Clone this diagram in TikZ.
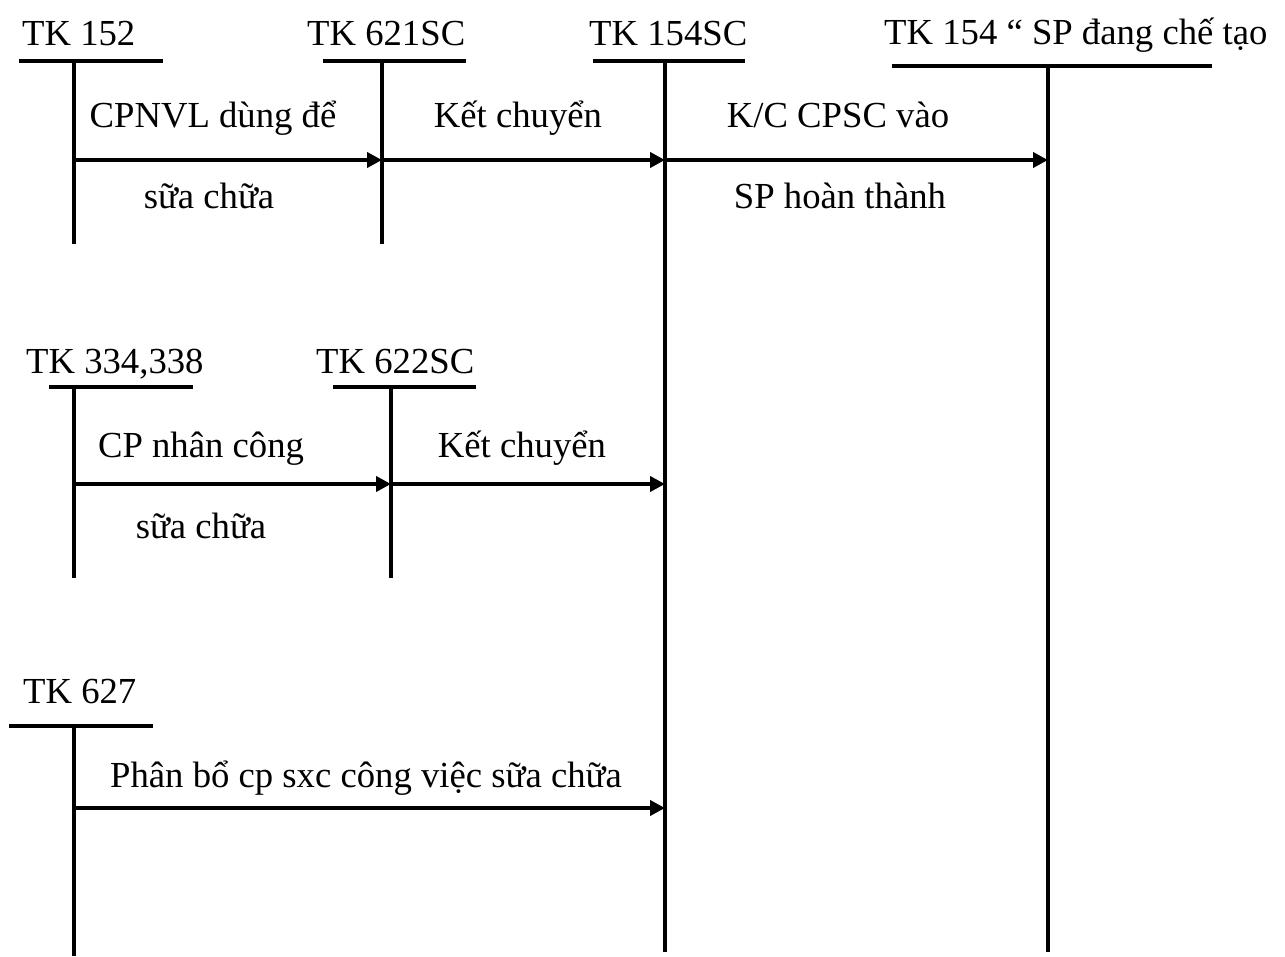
\documentclass[tikz,border=0pt]{standalone}
\usepackage{fontspec}
\setmainfont{Liberation Serif}
\usetikzlibrary{arrows.meta}
\begin{document}
\begin{tikzpicture}[x=1pt,y=-1pt,
  hdr/.style={line width=4.5pt},
  acct/.style={line width=3.8pt},
  flow/.style={line width=3.8pt,-{Triangle[length=15pt,width=15pt]}},
  txt/.style={inner sep=0pt,anchor=base,font=\fontsize{36.7}{44}\selectfont},
  lbl/.style={inner sep=0pt,anchor=base west,font=\fontsize{36.7}{44}\selectfont}]
\useasboundingbox (0,0) rectangle (1285,956);
% ---- headers
\node[lbl] (h152) at (22,45) {TK 152};
\node[lbl] (h621) at (307,45) {TK 621SC};
\node[lbl] (h154) at (589,45) {TK 154SC};
\node[lbl] (hsp) at (884,44) {TK 154 “ SP đang chế tạo};
\node[lbl] (h334) at (26,373) {TK 334,338};
\node[lbl] (h622) at (316,373) {TK 622SC};
\node[lbl] (h627) at (23,703) {TK 627};
% ---- header bars
\draw[hdr] (19,61) -- (163,61);
\draw[hdr] (323,61) -- (466,61);
\draw[hdr] (593,61) -- (745,61);
\draw[hdr] (892,66) -- (1212,66);
\draw[hdr] (49,387) -- (193,387);
\draw[hdr] (333,387) -- (476,387);
\draw[hdr] (9,726) -- (153,726);
% ---- account columns
\coordinate (t152) at (74,61);   \coordinate (b152) at (74,244);
\coordinate (t621) at (382,61);  \coordinate (b621) at (382,244);
\coordinate (t154) at (665,61);  \coordinate (b154) at (665,952);
\coordinate (tsp) at (1048,66);  \coordinate (bsp) at (1048,952);
\coordinate (t334) at (74,387);  \coordinate (b334) at (74,578);
\coordinate (t622) at (391,387); \coordinate (b622) at (391,578);
\coordinate (t627) at (74,726);  \coordinate (b627) at (74,956);
\draw[acct] (t152) -- (b152);
\draw[acct] (t621) -- (b621);
\draw[acct] (t154) -- (b154);
\draw[acct] (tsp) -- (bsp);
\draw[acct] (t334) -- (b334);
\draw[acct] (t622) -- (b622);
\draw[acct] (t627) -- (b627);
% ---- flow points
\coordinate (a1) at (74,160);
\coordinate (a2) at (382,160);
\coordinate (a3) at (665,160);
\coordinate (a4) at (1048,160);
\coordinate (c1) at (74,484);
\coordinate (c2) at (391,484);
\coordinate (c3) at (665,484);
\coordinate (d1) at (74,808);
\coordinate (d2) at (665,808);
\draw[flow] (a1) -- (a2);
\draw[flow] (a2) -- (a3);
\draw[flow] (a3) -- (a4);
\draw[flow] (c1) -- (c2);
\draw[flow] (c2) -- (c3);
\draw[flow] (d1) -- (d2);
% ---- labels
\node[txt] (l1) at (213,127) {CPNVL dùng để};
\node[txt] (l2) at (209,208) {sữa chữa};
\node[txt] (l3) at (518,127) {Kết chuyển};
\node[txt] (l4) at (838,127) {K/C CPSC vào};
\node[txt] (l5) at (840,208) {SP hoàn thành};
\node[txt] (l6) at (201,457) {CP nhân công};
\node[txt] (l7) at (201,538) {sữa chữa};
\node[txt] (l8) at (522,457) {Kết chuyển};
\node[txt] (l9) at (366,787) {Phân bổ cp sxc công việc sữa chữa};
\end{tikzpicture}
\end{document}
